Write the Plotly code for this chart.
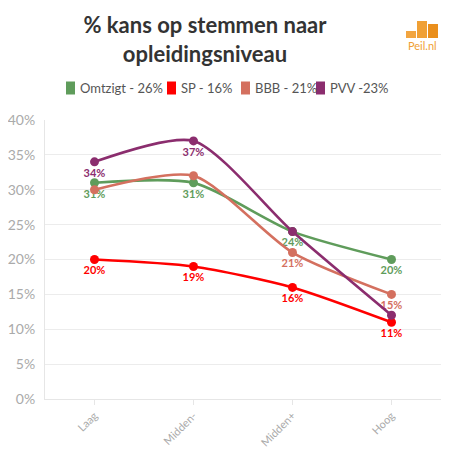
import plotly.graph_objects as go

categories = ["Laag", "Midden-", "Midden+", "Hoog"]
series_names = ["Omtzigt - 26%", "SP - 16%", "BBB - 21%", "PVV -23%"]
omtzigt = [31, 31, 24, 20]
sp = [20, 19, 16, 11]
bbb = [30, 32, 21, 15]
pvv = [34, 37, 24, 12]
# which points carry a data label
omtzigt_lbl = [True, True, True, True]
sp_lbl = [True, True, True, True]
bbb_lbl = [False, False, True, True]
pvv_lbl = [True, True, False, False]
colors = ["#5f9c5b", "#ff0000", "#d4705f", "#8b2d6e"]
y_ticks = [0, 5, 10, 15, 20, 25, 30, 35, 40]

FONT = "Lato"
OFF = 8  # page body margin
W, H = 453 - OFF, 459 - OFF
L, R, T, B = 45 - OFF, 12, 120 - OFF, 60
PW, PH = W - L - R, H - T - B

def px_x(px):
    return (px - OFF - L) / PW

def px_y(py):
    return (H - B - (py - OFF)) / PH

fig = go.Figure()
all_series = [omtzigt, sp, bbb, pvv]
all_lbl = [omtzigt_lbl, sp_lbl, bbb_lbl, pvv_lbl]
for name, vals, lbl, col in zip(series_names, all_series, all_lbl, colors):
    fig.add_trace(go.Scatter(
        x=categories, y=vals, mode="lines+markers+text", name=name,
        line=dict(color=col, width=2.6, shape="spline", smoothing=0.7),
        marker=dict(color=col, size=9),
        text=[f"<b>{v}%</b>" if s else "" for v, s in zip(vals, lbl)],
        textposition="bottom center",
        textfont=dict(color=col, size=11, family=FONT),
        showlegend=False, hoverinfo="skip",
    ))

shapes = []
annotations = []
# logo
for (x0, x1, y0, y1, c) in [(406, 416, 31, 38, "#f2a540"), (417, 427, 21, 38, "#f0a035"), (428, 438, 24, 38, "#ea8f1c")]:
    shapes.append(dict(type="rect", xref="paper", yref="paper",
                       x0=px_x(x0), x1=px_x(x1), y0=px_y(y1), y1=px_y(y0),
                       fillcolor=c, line=dict(width=0)))
annotations.append(dict(text="Peil.nl", xref="paper", yref="paper",
                        x=px_x(422), y=px_y(46), yanchor="middle", xanchor="center",
                        showarrow=False, font=dict(size=11, color="#f0a035", family=FONT)))

# custom legend
legend_sym_x = [66, 167, 241, 316]
legend_y = 88
for name, col, sx in zip(series_names, colors, legend_sym_x):
    shapes.append(dict(type="rect", xref="paper", yref="paper",
                       x0=px_x(sx), x1=px_x(sx + 9), y0=px_y(legend_y + 6.5), y1=px_y(legend_y - 6.5),
                       fillcolor=col, line=dict(width=0)))
    annotations.append(dict(text=name, xref="paper", yref="paper",
                            x=px_x(sx + 12), y=px_y(legend_y), xanchor="left", yanchor="middle",
                            showarrow=False, font=dict(size=13, color="#555", family=FONT)))

fig.update_layout(
    width=W, height=H,
    margin=dict(l=L, r=R, t=T, b=B),
    paper_bgcolor="white", plot_bgcolor="white",
    font=dict(family=FONT, color="#555"),
    title=dict(text="<b>% kans op stemmen naar<br>opleidingsniveau</b>",
               x=(205 - OFF) / W, xanchor="center", xref="container",
               y=1 - 25.2 / H, yanchor="top", yref="container",
               font=dict(size=22, color="#333", family=FONT)),
    showlegend=False,
    xaxis=dict(type="category", range=[-0.5, 3.5], tickangle=-45, automargin=False,
               tickfont=dict(size=11, color="#aaa", family=FONT),
               showgrid=False, showline=True, linecolor="#e6e6e6", linewidth=1,
               ticks="outside", ticklen=5, tickcolor="#e6e6e6", zeroline=False),
    yaxis=dict(range=[0, 40], tickvals=y_ticks, ticktext=[f"{v}%" for v in y_ticks],
               automargin=False,
               tickfont=dict(size=14, color="#aaa", family=FONT),
               showgrid=True, gridcolor="#ececec", gridwidth=1,
               showline=True, linecolor="#e6e6e6", linewidth=1, zeroline=False,
               ticks="", ticklabelstandoff=6),
    shapes=shapes,
    annotations=annotations,
)

fig.write_html("out.html")
